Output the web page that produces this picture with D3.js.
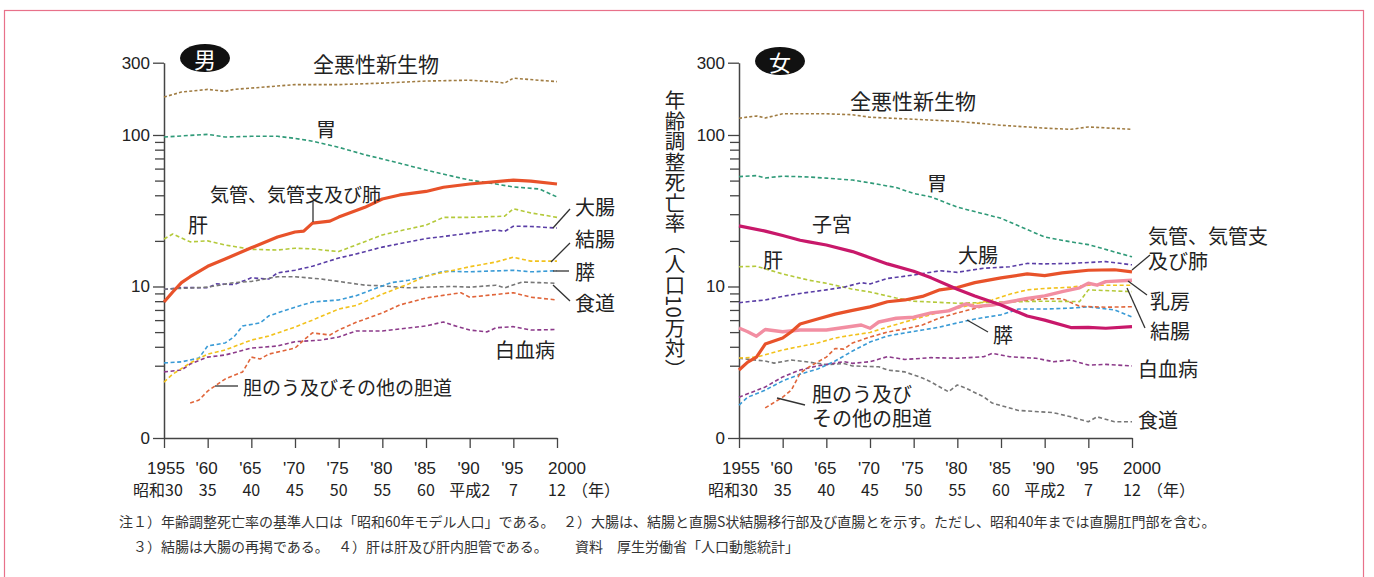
<!DOCTYPE html>
<html>
<head>
<meta charset="utf-8">
<script src="https://cdn.jsdelivr.net/npm/d3@7"></script>
<style>
  body { margin: 0; background: #fff; }
  svg text { font-family: "Noto Sans CJK JP", "Liberation Sans", sans-serif; fill: #222; }
  .num { font-family: "Liberation Sans", Arial, sans-serif; }
  .tight { font-family: "Liberation Sans", "Noto Sans CJK JP", sans-serif; }
</style>
</head>
<body>
<div id="chart"></div>
<script>
const W = 1374, H = 577;

// ---- data (age-adjusted death rate per 100k) ----
const yearTicks = [1955, 1960, 1965, 1970, 1975, 1980, 1985, 1990, 1995, 2000];
const yearLabels = ["1955", "'60", "'65", "'70", "'75", "'80", "'85", "'90", "'95", "2000"];
const eraLabels = ["昭和30", "35", "40", "45", "50", "55", "60", "平成2", "7", "12"];
const majorTicks = [1, 10, 100, 300];
const minorTicks = [3, 4, 5, 6, 7, 8, 9, 20, 30, 40, 50, 60, 70, 80, 90];

// male
const maleAll = [[1955,178],[1957,192],[1960,200],[1962,194],[1963,200],[1965,204],[1970,215],[1975,215],[1980,220],[1985,227],[1990,230],[1993,224],[1994,220],[1995,237],[2000,225]];
const maleStomach = [[1955,97],[1960,101],[1962,97],[1965,98],[1968,98],[1970,95],[1972,91],[1975,83],[1978,74],[1980,69.5],[1982,65],[1985,58.7],[1988,53.5],[1990,50.4],[1993,47.5],[1995,45.4],[1998,44],[2000,39]];
const maleLung = [[1955,7.9],[1956,9.2],[1957,10.6],[1958,11.6],[1960,13.6],[1962,15.2],[1965,18.0],[1968,21.2],[1970,22.9],[1971,23.2],[1972,26.2],[1974,27.0],[1975,28.7],[1978,33.3],[1980,37.8],[1982,40.2],[1985,42.4],[1987,45.2],[1990,47.5],[1995,50.4],[1997,49.6],[2000,47.5]];
const maleLiver = [[1955,20.6],[1956,22.2],[1958,19.7],[1960,20.0],[1962,18.8],[1965,17.6],[1968,17.4],[1970,17.9],[1972,17.7],[1975,17.0],[1977,18.8],[1980,21.9],[1982,23.3],[1985,25.4],[1987,28.6],[1990,28.6],[1994,29.1],[1995,32.6],[1997,30.6],[2000,28.6]];
const maleColorectal = [[1955,9.56],[1957,9.85],[1960,9.8],[1961,10.4],[1963,10.3],[1965,11.4],[1967,11.2],[1968,12.3],[1970,12.8],[1972,13.6],[1975,15.4],[1977,16.4],[1980,18.2],[1985,20.7],[1990,22.5],[1993,23.6],[1994,23.1],[1995,25.0],[1997,24.9],[2000,24.3]];
const maleColon = [[1955,2.34],[1956,2.64],[1958,3.13],[1960,3.58],[1962,3.81],[1965,4.43],[1967,4.71],[1970,5.4],[1972,6.0],[1975,7.1],[1977,7.5],[1980,8.9],[1983,10.4],[1985,11.7],[1990,13.5],[1993,14.5],[1995,15.6],[1997,14.7],[2000,14.7]];
const malePancreas = [[1955,3.13],[1957,3.18],[1959,3.37],[1960,4.05],[1962,4.24],[1963,4.64],[1964,5.49],[1966,5.75],[1967,6.4],[1970,7.3],[1972,7.9],[1975,8.15],[1977,8.7],[1979,9.6],[1981,10.6],[1983,11.0],[1985,11.7],[1987,12.6],[1990,12.5],[1995,12.8],[1997,12.5],[2000,12.7]];
const maleEsophagus = [[1955,9.6],[1960,9.9],[1963,10.6],[1965,10.8],[1968,11.6],[1970,11.6],[1973,11.2],[1975,10.8],[1978,10.2],[1980,10.1],[1983,9.8],[1985,9.9],[1988,10.0],[1990,9.9],[1993,10.2],[1994,9.8],[1996,10.7],[1998,10.6],[2000,10.5]];
const maleGallbladder = [[1958,1.70],[1959,1.78],[1960,2.04],[1962,2.45],[1964,2.73],[1965,3.42],[1966,3.32],[1967,3.58],[1970,3.92],[1971,4.43],[1972,4.94],[1974,4.78],[1975,5.16],[1977,5.8],[1980,6.7],[1982,7.55],[1985,8.4],[1989,9.1],[1990,8.5],[1995,9.1],[1997,8.5],[2000,8.15]];
const maleLeukemia = [[1955,2.73],[1957,2.81],[1958,3.08],[1960,3.42],[1962,3.53],[1965,3.92],[1968,4.05],[1970,4.32],[1973,4.43],[1975,4.64],[1977,5.09],[1980,5.09],[1985,5.49],[1987,5.83],[1988,5.57],[1990,5.16],[1992,5.02],[1993,5.34],[1995,5.43],[1997,5.16],[2000,5.2]];

// female
const femaleAll = [[1955,129],[1957,133.6],[1958,129.6],[1960,138],[1965,138],[1968,136],[1970,131],[1975,127],[1980,123],[1985,116],[1990,111],[1993,109],[1995,113],[2000,109]];
const femaleStomach = [[1955,53.1],[1957,53.9],[1958,52],[1960,53.5],[1963,52.8],[1965,51.9],[1968,50.4],[1970,48.3],[1973,45],[1975,41.1],[1977,39],[1980,33.4],[1985,28.2],[1990,21.2],[1993,19.7],[1995,18.9],[2000,15.7]];
const femaleUterus = [[1955,25.1],[1958,23.2],[1960,21.7],[1962,20.2],[1963,19.7],[1965,18.8],[1968,17.0],[1970,15.5],[1972,14.1],[1975,12.6],[1977,11.4],[1980,9.6],[1982,8.66],[1985,7.55],[1988,6.38],[1990,6.0],[1993,5.36],[1995,5.38],[1997,5.3],[2000,5.43]];
const femaleLiver = [[1955,13.5],[1957,13.6],[1960,12.1],[1963,11.0],[1965,10.5],[1968,9.6],[1970,9.2],[1973,8.4],[1975,8.0],[1980,7.75],[1985,7.9],[1990,8.0],[1994,7.95],[1995,9.5],[2000,9.25]];
const femaleColorectal = [[1955,7.82],[1958,8.15],[1960,8.6],[1962,9.0],[1965,9.5],[1967,9.9],[1969,10.6],[1970,10.4],[1972,11.3],[1975,11.9],[1978,12.7],[1980,12.4],[1983,13.2],[1986,13.5],[1988,14.2],[1990,14.1],[1993,14.2],[1995,14.4],[1997,14.6],[2000,13.9]];
const femaleLung = [[1955,2.81],[1956,3.17],[1957,3.42],[1958,4.17],[1960,4.57],[1961,5.03],[1962,5.66],[1964,6.1],[1966,6.57],[1968,6.95],[1970,7.34],[1972,7.93],[1974,8.15],[1976,8.6],[1978,9.5],[1980,9.85],[1982,10.6],[1985,11.4],[1988,12.1],[1990,11.8],[1992,12.3],[1995,12.8],[1998,12.9],[2000,12.5]];
const femaleBreast = [[1955,5.32],[1956,5.03],[1957,4.7],[1958,5.2],[1960,5.03],[1962,5.16],[1965,5.16],[1967,5.36],[1969,5.57],[1970,5.3],[1971,5.83],[1973,6.17],[1975,6.27],[1977,6.69],[1979,6.9],[1981,7.67],[1982,7.36],[1984,7.55],[1986,7.93],[1988,8.35],[1990,8.67],[1992,9.25],[1994,9.8],[1995,10.5],[1996,10.2],[1997,10.77],[2000,11.0]];
const femaleColon = [[1955,3.37],[1957,3.42],[1960,3.81],[1962,4.02],[1964,4.24],[1966,4.57],[1968,4.78],[1970,4.97],[1972,5.4],[1974,5.83],[1976,6.28],[1978,6.78],[1980,7.2],[1982,7.67],[1984,8.15],[1986,8.9],[1988,9.5],[1990,9.7],[1993,9.9],[1995,10.2],[2000,10.2]];
const femalePancreas = [[1955,1.65],[1956,1.86],[1958,2.07],[1960,2.38],[1962,2.64],[1964,2.85],[1966,3.22],[1968,3.75],[1970,4.3],[1972,4.71],[1974,4.94],[1976,5.16],[1978,5.4],[1980,5.75],[1982,6.1],[1985,6.5],[1987,7.1],[1990,7.1],[1993,7.2],[1995,7.35],[1998,7.0],[2000,6.3]];
const femaleGallbladder = [[1958,1.58],[1960,1.86],[1961,2.07],[1962,2.68],[1963,2.94],[1965,3.42],[1966,3.9],[1967,3.86],[1968,4.24],[1970,4.64],[1972,5.0],[1974,5.25],[1976,5.57],[1978,6.2],[1980,6.7],[1983,7.4],[1986,7.9],[1990,8.3],[1992,8.3],[1994,7.4],[1997,7.3],[2000,7.35]];
const femaleLeukemia = [[1955,1.86],[1958,2.17],[1960,2.53],[1962,2.81],[1964,2.99],[1967,3.19],[1968,3.11],[1970,3.19],[1972,3.44],[1974,3.3],[1977,3.39],[1980,3.36],[1983,3.44],[1984,3.62],[1986,3.44],[1989,3.36],[1991,3.19],[1993,3.27],[1995,3.03],[1997,3.06],[2000,2.99]];
const femaleEsophagus = [[1955,3.36],[1958,3.22],[1959,3.12],[1961,3.27],[1963,3.17],[1965,3.05],[1967,3.1],[1968,2.99],[1971,2.95],[1972,2.81],[1974,2.73],[1976,2.49],[1977,2.34],[1978,2.17],[1979,2.02],[1980,2.24],[1981,2.13],[1983,1.87],[1984,1.70],[1987,1.52],[1991,1.47],[1993,1.38],[1995,1.28],[1996,1.38],[1998,1.28],[2000,1.28]];

// line styles
const C = {
    all: '#a07c42', stomach: '#2f9a78', lung: '#e8522a', liver: '#b4c93a',
    colorectal: '#5a3ea6', colon: '#f2c21c', pancreas: '#3a9bd6', esophagus: '#777',
    gallbladder: '#e0653a', leukemia: '#8c3a8a', uterus: '#c8186a', breast: '#f28ea2'
};
const dashed = (data, color, dash) => ({ data, color, width: 1.6, dash: dash || '4,2.6' });
const solid = (data, color, width) => ({ data, color, width: width || 3.2, dash: null });

const maleSeries = [
    dashed(maleAll, C.all, '3,2.2'), dashed(maleStomach, C.stomach), dashed(maleLiver, C.liver),
    dashed(maleColorectal, C.colorectal), dashed(maleEsophagus, C.esophagus), dashed(maleLeukemia, C.leukemia),
    dashed(maleGallbladder, C.gallbladder), dashed(malePancreas, C.pancreas), dashed(maleColon, C.colon),
    solid(maleLung, C.lung)
];
const femaleSeries = [
    dashed(femaleAll, C.all, '3,2.2'), dashed(femaleStomach, C.stomach), dashed(femaleEsophagus, C.esophagus),
    dashed(femaleLeukemia, C.leukemia), dashed(femalePancreas, C.pancreas), dashed(femaleGallbladder, C.gallbladder),
    dashed(femaleLiver, C.liver), dashed(femaleColorectal, C.colorectal), dashed(femaleColon, C.colon),
    solid(femaleBreast, C.breast, 3.4), solid(femaleLung, C.lung), solid(femaleUterus, C.uterus)
];

const svg = d3.select('#chart')
    .append('svg')
    .attr('width', W)
    .attr('height', H);

// pink frame
svg.append('rect')
    .attr('x', 4.5).attr('y', 10.5)
    .attr('width', 1359).attr('height', 620)
    .attr('fill', 'none')
    .attr('stroke', '#e8718a')
    .attr('stroke-width', 1.2);

const y = d3.scaleLog().domain([1, 300]).range([438, 62.7]);

function drawPanel(x, series) {
    const g = svg.append('g');
    const x0 = x.range()[0];

    // minor ticks
    g.append('g')
        .attr('transform', `translate(${x0},0)`)
        .call(d3.axisLeft(y).tickValues(minorTicks).tickSize(9).tickSizeOuter(0).tickFormat(''))
        .call(a => a.select('.domain').remove());

    // major ticks + labels
    const yAxis = g.append('g')
        .attr('transform', `translate(${x0},0)`)
        .call(d3.axisLeft(y).tickValues(majorTicks).tickSize(11).tickSizeOuter(0)
            .tickPadding(3).tickFormat(d => d === 1 ? '0' : d));
    yAxis.selectAll('text').attr('class', 'num').style('font-size', '17px').attr('fill', '#222');

    g.append('g')
        .attr('transform', `translate(0,${y(1)})`)
        .call(d3.axisBottom(x).tickValues(yearTicks).tickSize(10).tickSizeOuter(0).tickFormat(''));

    g.selectAll('.domain').attr('stroke', '#444').attr('stroke-width', 1.5);
    g.selectAll('.tick line').attr('stroke', '#444').attr('stroke-width', 1.3);

    // x labels, two rows
    g.selectAll('.yr').data(yearTicks).enter().append('text')
        .attr('class', 'num')
        .attr('x', (d, i) => x(d) + (i === 0 ? 2 : i === yearTicks.length - 1 ? 10 : -1))
        .attr('y', 474)
        .attr('text-anchor', 'middle')
        .style('font-size', '17px')
        .text((d, i) => yearLabels[i]);
    g.selectAll('.era').data(yearTicks).enter().append('text')
        .attr('x', (d, i) => x(d) + (i === 0 ? -6 : 0))
        .attr('y', 496)
        .attr('text-anchor', 'middle')
        .style('font-size', '16px')
        .text((d, i) => eraLabels[i]);
    g.append('text')
        .attr('x', x(2000) + 15).attr('y', 496)
        .style('font-size', '16px')
        .text('（年）');

    const line = d3.line()
        .x(d => x(d[0]))
        .y(d => y(d[1]));

    series.forEach(s => {
        g.append('path')
            .datum(s.data)
            .attr('d', line)
            .attr('fill', 'none')
            .attr('stroke', s.color)
            .attr('stroke-width', s.width)
            .attr('stroke-dasharray', s.dash)
            .attr('stroke-linejoin', 'round');
    });
    return g;
}

const xMale = d3.scaleLinear().domain([1955, 2000]).range([164, 557]);
const xFemale = d3.scaleLinear().domain([1955, 2000]).range([739, 1132]);
drawPanel(xMale, maleSeries);
drawPanel(xFemale, femaleSeries);

// ---- annotations ----
function label(txt, x, yc, size, anchor) {
    svg.append('text')
        .attr('x', x).attr('y', yc)
        .attr('dominant-baseline', 'central')
        .attr('text-anchor', anchor || 'start')
        .style('font-size', (size || 20) + 'px')
        .text(txt);
}
// stacked two-line label; latin font first keeps the line box tight
function label2(lines, x, yc, gap) {
    lines.forEach((t, i) => {
        svg.append('text')
            .attr('class', 'tight')
            .attr('x', x).attr('y', yc + i * gap)
            .attr('dominant-baseline', 'central')
            .style('font-size', '20px')
            .text(t);
    });
}
function leader(x1, y1, x2, y2) {
    svg.append('line')
        .attr('x1', x1).attr('y1', y1).attr('x2', x2).attr('y2', y2)
        .attr('stroke', '#333').attr('stroke-width', 1.3);
}
function badge(cx, cy, txt) {
    svg.append('ellipse').attr('cx', cx).attr('cy', cy).attr('rx', 25).attr('ry', 14).attr('fill', '#111');
    svg.append('text')
        .attr('x', cx).attr('y', cy)
        .attr('text-anchor', 'middle').attr('dominant-baseline', 'central')
        .style('font-size', '22px').style('fill', '#fff')
        .text(txt);
}

badge(205, 58, '男');
badge(780, 61, '女');

// male labels
label('全悪性新生物', 313, 63, 21);
label('胃', 326, 128, 20, 'middle');
label('気管、気管支及び肺', 210, 193, 19);
leader(313, 202, 313, 222);
label('肝', 198, 224, 20, 'middle');
label('大腸', 575, 206);
leader(570, 209, 553, 228);
label('結腸', 575, 238);
leader(570, 243, 551, 262);
label('膵', 575, 271);
leader(553, 271, 569, 271);
label('食道', 575, 302);
leader(553, 285, 570, 301);
label('白血病', 495, 349);
label('胆のう及びその他の胆道', 243, 386, 19);
leader(215, 386, 238, 386);

// female labels
label('全悪性新生物', 850, 100, 21);
label('胃', 937, 182, 20, 'middle');
label('子宮', 812, 223);
label('肝', 773, 259, 20, 'middle');
label('大腸', 978, 254, 20, 'middle');
label2(['気管、気管支', '及び肺'], 1148, 237, 25);
leader(1150, 255, 1132, 270);
label('乳房', 1150, 300);
leader(1147, 295, 1128, 281);
label('結腸', 1150, 330);
leader(1145, 328, 1127, 288);
label('膵', 1003, 334, 20, 'middle');
leader(988, 332, 967, 320);
label('白血病', 1138, 368);
label('食道', 1138, 419);
label2(['胆のう及び', 'その他の胆道'], 812, 395, 24);
leader(805, 405, 777, 398);

// vertical y-axis title for the female panel
svg.append('text')
    .attr('x', 675)
    .attr('y', 90)
    .style('writing-mode', 'vertical-rl')
    .style('text-orientation', 'mixed')
    .style('font-size', '20.5px')
    .text('年齢調整死亡率（人口10万対）');

// notes
const notes = [
    ['注１）年齢調整死亡率の基準人口は「昭和60年モデル人口」である。', 119, 521],
    ['２）大腸は、結腸と直腸S状結腸移行部及び直腸とを示す。ただし、昭和40年までは直腸肛門部を含む。', 563, 521],
    ['３）結腸は大腸の再掲である。', 133, 546],
    ['４）肝は肝及び肝内胆管である。', 338, 546],
    ['資料　厚生労働省「人口動態統計」', 575, 546]
];
notes.forEach(n => {
    svg.append('text')
        .attr('x', n[1]).attr('y', n[2])
        .attr('dominant-baseline', 'central')
        .style('font-size', '14px')
        .style('fill', '#333')
        .text(n[0]);
});
</script>
</body>
</html>
